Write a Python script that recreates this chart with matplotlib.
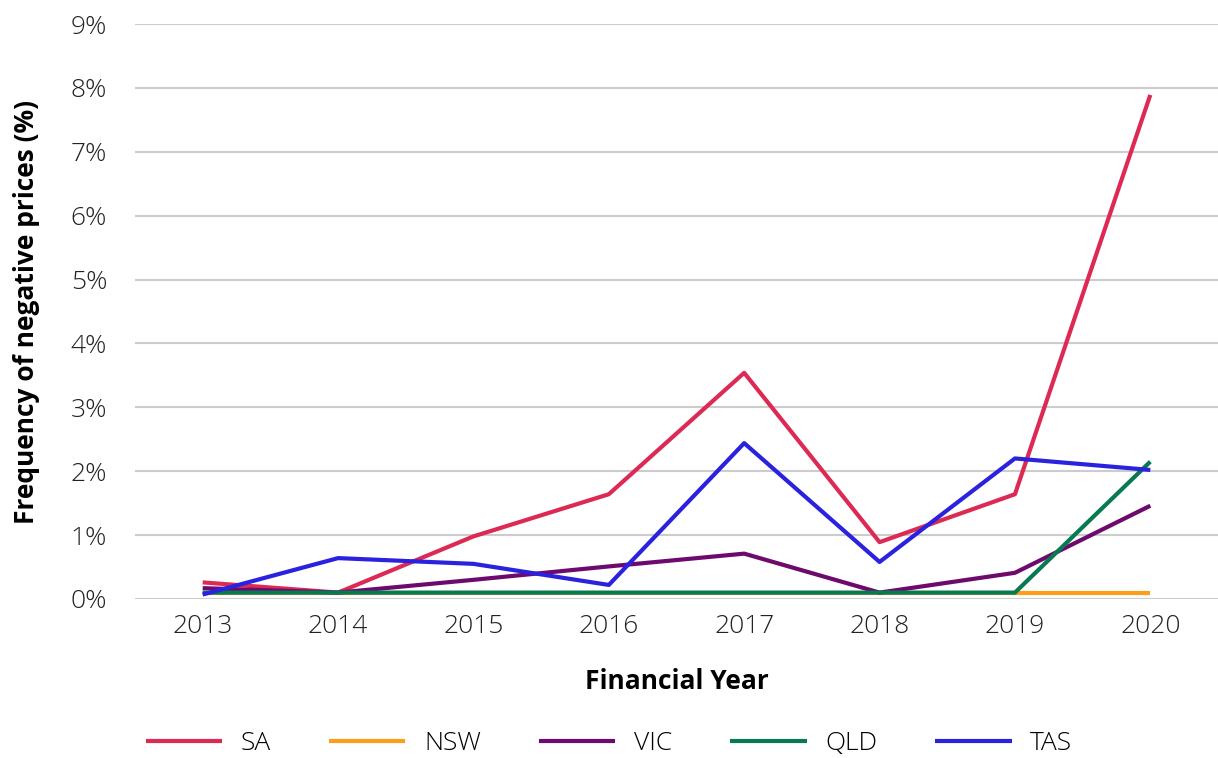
import matplotlib
matplotlib.use("Agg")
import matplotlib.pyplot as plt
from matplotlib.ticker import FuncFormatter

years = ["2013", "2014", "2015", "2016", "2017", "2018", "2019", "2020"]
SA = [0.26, 0.10, 0.98, 1.64, 3.54, 0.89, 1.64, 7.89]
NSW = [0.10, 0.10, 0.10, 0.10, 0.10, 0.10, 0.10, 0.10]
VIC = [0.17, 0.10, 0.30, 0.51, 0.71, 0.10, 0.41, 1.46]
QLD = [0.10, 0.10, 0.10, 0.10, 0.10, 0.10, 0.10, 2.15]
TAS = [0.07, 0.64, 0.55, 0.22, 2.44, 0.58, 2.20, 2.02]

series = [("SA", SA, "#dc2a55"), ("NSW", NSW, "#fb9f1a"), ("VIC", VIC, "#6e0a6e"),
          ("QLD", QLD, "#077a52"), ("TAS", TAS, "#2a22de")]

plt.rcParams['font.family'] = ['Open Sans', 'DejaVu Sans']

fig = plt.figure(figsize=(12.18, 7.58), dpi=100)
ax = fig.add_axes([135/1218, 1 - 599/758, 1 - 135/1218, (599 - 24)/758])

x = list(range(len(years)))
for name, vals, col in series:
    ax.plot(x, vals, color=col, lw=3, label=name, solid_capstyle='butt')

ax.set_xlim(-0.5, len(years) - 0.5)
ax.set_ylim(0, 9)
ax.set_yticks(range(0, 10))
ax.yaxis.set_major_formatter(FuncFormatter(lambda v, p: f"{int(v)}%"))
ax.set_xticks(x)
ax.set_xticklabels(years)
ax.grid(axis='y', color='#cccccc', lw=1.5)
ax.set_axisbelow(True)
for s in ax.spines.values():
    s.set_visible(False)
ax.tick_params(axis='both', length=0, labelsize=19, colors='#222222')
ax.tick_params(axis='y', pad=20)
ax.tick_params(axis='x', pad=11)
for lab in ax.get_xticklabels() + ax.get_yticklabels():
    lab.set_fontweight('light')

ax.set_xlabel("Financial Year", fontsize=19, fontweight='bold', labelpad=21)
ax.set_ylabel("Frequency of negative prices (%)", fontsize=19, fontweight='bold')
ax.yaxis.set_label_coords(-0.088, 0.5)

leg = fig.legend(loc='center', bbox_to_anchor=(0.5, 1 - 744/758), ncol=5, frameon=False,
                 fontsize=19, handlelength=2.9, columnspacing=2.2, handletextpad=0.7)
for t in leg.get_texts():
    t.set_fontweight('light')

fig.savefig("out.png", dpi=100, facecolor='white')
